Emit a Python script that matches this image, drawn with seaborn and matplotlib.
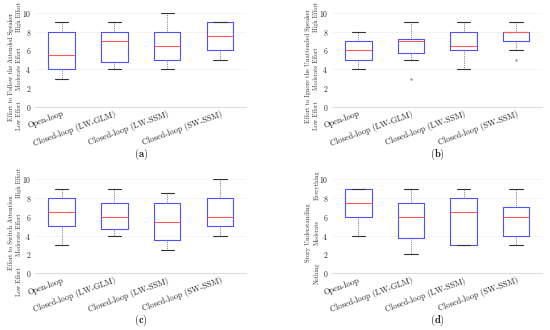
import matplotlib
matplotlib.use("Agg")
import matplotlib.pyplot as plt
import matplotlib.transforms as mtransforms
import seaborn as sns

sns.set_style("white")
plt.rcParams['font.family'] = ['cmr10', 'DejaVu Serif']
plt.rcParams['mathtext.fontset'] = 'cm'
plt.rcParams['axes.formatter.use_mathtext'] = True

conditions = ['Open-loop', 'Closed-loop (LW-GLM)', 'Closed-loop (LW-SSM)', 'Closed-loop (SW-SSM)']

# five number summaries: whisker low, q1, median, q3, whisker high
follow_low = [3, 4, 4, 5]
follow_q1 = [4, 4.75, 5, 6]
follow_med = [5.5, 7, 6.5, 7.5]
follow_q3 = [8, 8, 8, 9]
follow_high = [9, 9, 10, 9]
follow_out = [[], [], [], []]

ignore_low = [4, 5, 4, 6]
ignore_q1 = [5, 5.75, 6, 7]
ignore_med = [6, 7, 6.5, 8]
ignore_q3 = [7, 7.25, 8, 8]
ignore_high = [8, 9, 9, 9]
ignore_out = [[], [3], [], [5]]

switch_low = [3, 4, 2.5, 4]
switch_q1 = [5, 4.75, 3.5, 5]
switch_med = [6.5, 6, 5.5, 6]
switch_q3 = [8, 7.5, 7.5, 8]
switch_high = [9, 9, 8.5, 10]
switch_out = [[], [], [], []]

story_low = [4, 2, 3, 3]
story_q1 = [6, 3.75, 3, 4]
story_med = [7.5, 6, 6.5, 6]
story_q3 = [9, 7.5, 8, 7]
story_high = [9, 9, 9, 9]
story_out = [[], [], [], []]

panels = [
    ('a', 'Effort to Follow the Attended Speaker', ['Low Effort', 'Moderate Effort', 'High Effort'],
     follow_low, follow_q1, follow_med, follow_q3, follow_high, follow_out),
    ('b', 'Effort to Ignore the Unattended Speaker', ['Low Effort', 'Moderate Effort', 'High Effort'],
     ignore_low, ignore_q1, ignore_med, ignore_q3, ignore_high, ignore_out),
    ('c', 'Effort to Switch Attention', ['Low Effort', 'Moderate Effort', 'High Effort'],
     switch_low, switch_q1, switch_med, switch_q3, switch_high, switch_out),
    ('d', 'Story Understanding', ['Nothing', 'Moderate', 'Everything'],
     story_low, story_q1, story_med, story_q3, story_high, story_out),
]

fig = plt.figure(figsize=(5.5, 3.3), dpi=100)
rects = [
    [0.064, 0.676, 0.384, 0.285],
    [0.604, 0.676, 0.382, 0.285],
    [0.064, 0.172, 0.384, 0.285],
    [0.604, 0.172, 0.382, 0.285],
]
inner_y = {'d': [0.0, 4.3, 9.4]}

for rect, (tag, ylab, levels, lo, q1, med, q3, hi, outs) in zip(rects, panels):
    ax = fig.add_axes(rect)
    stats = []
    for i in range(len(conditions)):
        stats.append(dict(whislo=lo[i], q1=q1[i], med=med[i], q3=q3[i],
                          whishi=hi[i], fliers=outs[i], label=conditions[i]))
    ax.bxp(stats, positions=[1, 2, 3, 4], widths=0.5, showfliers=True,
           boxprops=dict(color='#5050ff', linewidth=0.8),
           medianprops=dict(color='#ff5a5a', linewidth=0.8),
           whiskerprops=dict(color='#666666', linewidth=0.6, linestyle=(0, (1, 1.2))),
           capprops=dict(color='#333333', linewidth=0.8),
           flierprops=dict(marker='.', markersize=1.5, markerfacecolor='#999999',
                           markeredgecolor='#999999'))
    ax.set_xlim(0.5, 4.5)
    ax.set_ylim(0, 10)
    ax.set_yticks([0, 2, 4, 6, 8, 10])
    ax.tick_params(axis='y', labelsize=5.5, length=0, pad=3)
    ax.tick_params(axis='x', length=0, pad=2)
    ax.set_xticks([1, 2, 3, 4])
    ax.set_xticklabels(conditions, rotation=20, ha='right', rotation_mode='anchor', fontsize=6)
    for y in [4, 8, 10]:
        ax.axhline(y, color='#f2f2f2', linewidth=0.6, zorder=0)
    for s in ['top', 'right', 'left']:
        ax.spines[s].set_visible(False)
    ax.spines['bottom'].set_color('#dddddd')
    ax.spines['bottom'].set_linewidth(0.8)

    trans = mtransforms.blended_transform_factory(ax.transAxes, ax.transData)
    ax.text(-0.115, 4.3, ylab, transform=trans, rotation=90, ha='center', va='center',
            fontsize=4.6, color='#333333')
    ys = inner_y.get(tag, [-0.9, 4.1, 9.6])
    for lev, yv in zip(levels, ys):
        ax.text(-0.075, yv, lev, transform=trans, rotation=90, ha='center', va='center',
                fontsize=4.4, color='#333333')
    ax.text(0.5, -0.5, r'$\mathbf{(%s)}$' % tag, transform=ax.transAxes, ha='center',
            va='center', fontsize=7.5)

fig.savefig('out.png', dpi=100)
